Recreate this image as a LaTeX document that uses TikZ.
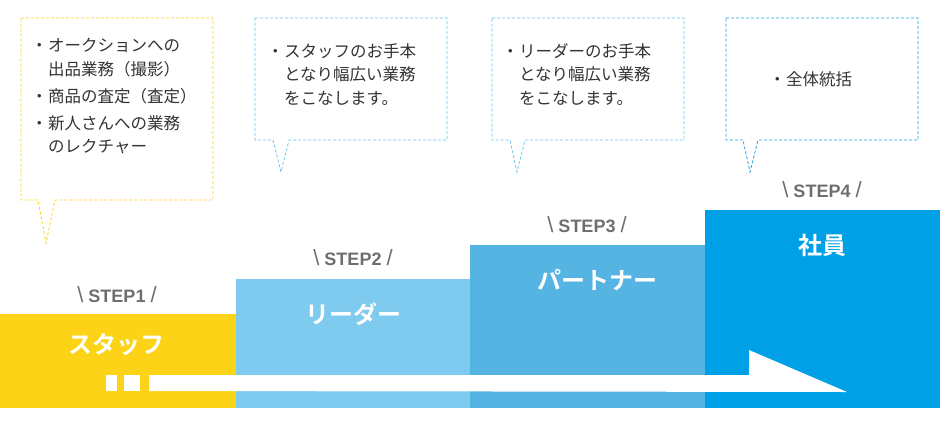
\documentclass[tikz,border=0pt]{standalone}
\usepackage{fontspec}
\newfontfamily\jp{Noto Sans CJK JP}
\newfontfamily\jpb{Noto Sans CJK JP Bold}
\newfontfamily\lsb{Liberation Sans Bold}
\newfontfamily\lsr{Liberation Sans}
\definecolor{cyel}{HTML}{FCD316}
\definecolor{cl}{HTML}{7ECBEF}
\definecolor{cp}{HTML}{55B4E2}
\definecolor{ce}{HTML}{00A0E6}
\definecolor{cdl}{HTML}{6CC4EC}
\definecolor{cdd}{HTML}{1E9FE0}
\definecolor{ctx}{HTML}{333333}
\definecolor{cst}{HTML}{6E6E6E}
\newcommand{\bl}{\makebox[11pt][l]{\hspace{-6pt}・}}
\newcommand{\ind}{\hspace{11pt}}
\newcommand{\stlab}[1]{{\lsr\fontsize{22}{22}\selectfont\textbackslash}\hspace{5pt}#1\hspace{5pt}{\lsr\fontsize{22}{22}\selectfont/}}
\begin{document}
\begin{tikzpicture}[x=1pt,y=-1pt,
  bub/.style={dashed,dash pattern=on 3pt off 2pt,line width=0.8pt},
  txt/.style={anchor=north west,inner sep=0pt,font=\jp\fontsize{16.5}{23.5}\selectfont,text=ctx,align=left},
  stp/.style={font=\lsb\fontsize{18}{18}\selectfont,text=cst,inner sep=0pt},
  ttl/.style={font=\jpb\fontsize{24}{24}\selectfont,text=white,inner sep=0pt}]
\useasboundingbox (0,0) rectangle (940,432);
% bars
\fill[cyel] (0,314) rectangle (236,408);
\fill[cl] (236,279) rectangle (470,408);
\fill[cp] (470,245) rectangle (705,408);
\fill[ce] (705,210) rectangle (940,408);
% arrow
\fill[white] (106,375) rectangle (117,391);
\fill[white] (124,375) rectangle (140,391);
\fill[white] (149,375) -- (749,375) -- (749,350) -- (847,392) -- (149,391) -- cycle;
% bubbles
\draw[bub,cyel] (21,18) -- (213,18) -- (213,200) -- (55,200) -- (46,243) -- (38,200) -- (21,200) -- cycle;
\draw[bub,cdl] (255,18) -- (447,18) -- (447,140) -- (289,140) -- (281,172) -- (273,140) -- (255,140) -- cycle;
\draw[bub,cdl] (492,18) -- (684,18) -- (684,140) -- (525,140) -- (517,172) -- (510,140) -- (492,140) -- cycle;
\draw[bub,cdd] (726,18) -- (918,18) -- (918,140) -- (758,140) -- (750,172) -- (743,140) -- (726,140) -- cycle;
% texts
\node[txt] (t1a) at (37,38) {\bl オークションへの\\\ind 出品業務（撮影）};
\node[txt] (t1b) at (37,88) {\bl 商品の査定（査定）};
\node[txt] (t1c) at (37,115) {\bl 新人さんへの業務\\\ind のレクチャー};
\node[txt] (t2) at (273,43) {\bl スタッフのお手本\\\ind となり幅広い業務\\\ind をこなします。};
\node[txt] (t3) at (508,43) {\bl リーダーのお手本\\\ind となり幅広い業務\\\ind をこなします。};
\node[txt] (t4) at (775,71) {\bl 全体統括};
% steps
\node[stp] (s1) at (117,295) {\stlab{STEP1}};
\node[stp] (s2) at (353,258) {\stlab{STEP2}};
\node[stp] (s3) at (587,225) {\stlab{STEP3}};
\node[stp] (s4) at (822,190) {\stlab{STEP4}};
% titles
\node[ttl] (n1) at (116,345) {スタッフ};
\node[ttl] (n2) at (353,314) {リーダー};
\node[ttl] (n3) at (597,280) {パートナー};
\node[ttl] (n4) at (822,245) {社員};
\end{tikzpicture}
\end{document}
